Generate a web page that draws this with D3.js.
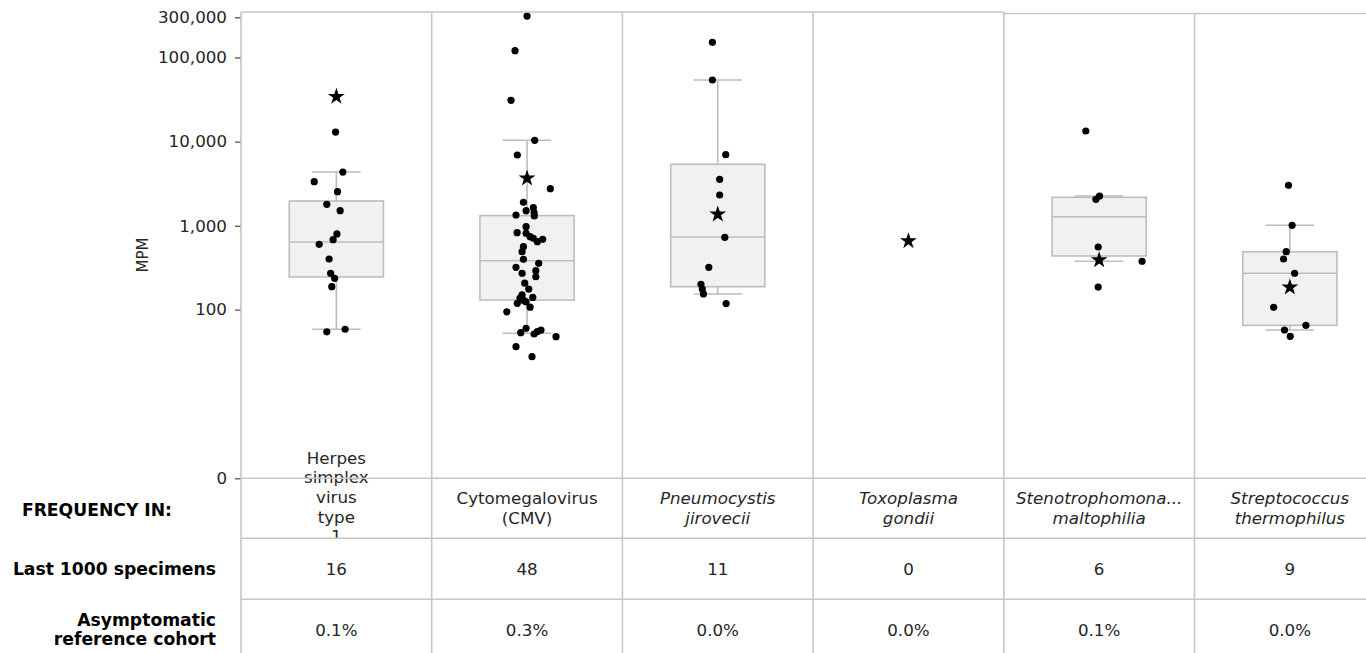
<!DOCTYPE html>
<html>
<head>
<meta charset="utf-8">
<script src="https://cdn.jsdelivr.net/npm/d3@7"></script>
<style>
  html, body { margin: 0; padding: 0; background: #fff; overflow: hidden; }
  svg { display: block; font-family: "DejaVu Sans", sans-serif; }
</style>
</head>
<body>
<svg id="chart" width="1366" height="653"></svg>
<script>
// ---- organisms shown as columns ----
const organisms = [
  "Herpes simplex virus type 1",
  "Cytomegalovirus (CMV)",
  "Pneumocystis jirovecii",
  "Toxoplasma gondii",
  "Stenotrophomonas maltophilia",
  "Streptococcus thermophilus"
];
const headerLines = [
  ["Herpes", "simplex", "virus", "type", "1"],
  ["Cytomegalovirus", "(CMV)"],
  ["Pneumocystis", "jirovecii"],
  ["Toxoplasma", "gondii"],
  ["Stenotrophomona...", "maltophilia"],
  ["Streptococcus", "thermophilus"]
];
const headerItalic = [false, false, true, true, true, true];

// ---- frequency table ----
const last1000Counts = [16, 48, 11, 0, 6, 9];
const cohortPercent = [0.1, 0.3, 0.0, 0.0, 0.1, 0.0];

// ---- current specimen (star), MPM ----
const sampleMPM = [34180, 3665, 1369, 659, 391, 185];

// ---- y axis ticks ----
const yTicks = [0, 100, 1000, 10000, 100000, 300000];

// ---- historical detections, MPM, with strip jitter (% of column width) ----
const hsv1MPM = [13000, 4350, 3340, 2540, 1800, 1511, 799, 683, 602, 402, 272, 237, 188, 58, 54];
const hsv1Jitter = [-0.4, 3.4, -11.6, 0.6, -5.0, 2.0, 0.3, -1.7, -9.0, -3.8, -3.0, -0.9, -2.4, 4.6, -5.0];

const cmvMPM = [310000, 120300, 30970, 10370, 6935, 2758, 1901, 1641, 1511, 1431, 1343, 1306,
  975, 827, 814, 741, 710, 690, 647, 564, 492, 399, 357, 320, 292, 272, 247, 207, 176,
  150, 140, 137, 128, 124, 119, 107, 94, 59.5, 56.8, 54.2, 52.7, 50.8, 47.1, 35.6, 26.9];
const cmvJitter = [0, -6.3, -8.4, 4.0, -5.1, 12.2, -1.9, 3.3, -0.5, 3.7, -5.8, 3.8,
  -0.5, -5.2, -0.5, 1.6, 3.3, 8.2, 5.4, -1.9, -2.6, -1.9, 6.1, -5.8, 4.6, -2.6, 4.6, -1.2, 0.9,
  -2.6, 3.0, -3.7, -1.6, -0.5, -5.1, 1.6, -10.6, -0.5, 7.3, 5.4, -3.3, 3.7, 15.2, -5.8, 2.6];

const pjMPM = [151400, 53950, 6993, 3567, 2321, 729, 320, 201, 176, 154, 118];
const pjJitter = [-2.8, -2.8, 4.2, 1.0, 1.0, 3.7, -4.7, -8.8, -8.1, -7.5, 4.4];

const tgMPM = [];
const tgJitter = [];

const smMPM = [13370, 2259, 2063, 559, 378, 186];
const smJitter = [-7.0, 0.2, -1.7, -0.5, 22.5, -0.5];

const stMPM = [3027, 1013, 491, 402, 272, 106.6, 64.7, 56.8, 47.6];
const stJitter = [-0.7, 1.2, -1.9, -3.3, 2.5, -8.5, 8.4, -2.8, 0.2];

const detections = [hsv1MPM, cmvMPM, pjMPM, tgMPM, smMPM, stMPM];
const jitters = [hsv1Jitter, cmvJitter, pjJitter, tgJitter, smJitter, stJitter];

// ---- box summaries (null where there is no history) ----
const whiskerLow  = [58, 51.8, 154, null, 378, 56.8];
const quartile1   = [246, 130, 188, null, 437, 64.7];
const medianMPM   = [642, 384, 735, null, 1282, 272];
const quartile3   = [1970, 1320, 5377, null, 2180, 491];
const whiskerHigh = [4350, 10370, 53950, null, 2259, 1013];

// ---- layout ----
const svg = d3.select("#chart");
const W = 1366, H = 653;
const left = 241, colW = 190.7;
const yZero = 478.3, yTop = 17.3;
const rowLines = [478.3, 538.3, 599.3];
const panelTops = [12, 12, 12, 12, 13.5, 13.5];
const gridColor = "#c6c6c6";
const boxStroke = "#bdbdbd";
const textColor = "#262626";
const fontSize = 16.7;
const labelSize = 17.2;

const x = d3.scaleBand().domain(organisms).range([left, left + colW * organisms.length]);
const y = d3.scaleSymlog().constant(1).domain([0, 300000]).range([yZero, yTop]);
const cx = o => x(o) + x.bandwidth() / 2;
const boxHalf = x.bandwidth() * 0.247;
const capHalf = x.bandwidth() * 0.127;

// panel backgrounds
svg.append("g").selectAll("rect").data(organisms).join("rect")
  .attr("x", d => x(d)).attr("y", (d, i) => panelTops[i])
  .attr("width", x.bandwidth()).attr("height", yZero - 12)
  .attr("fill", "#fff");

// box plots
const boxes = svg.append("g");
organisms.forEach((o, i) => {
  if (quartile1[i] == null) return;
  const c = cx(o);
  const g = boxes.append("g").attr("stroke", boxStroke).attr("stroke-width", 1.6);
  g.append("line").attr("x1", c).attr("x2", c).attr("y1", y(quartile3[i])).attr("y2", y(whiskerHigh[i]));
  g.append("line").attr("x1", c).attr("x2", c).attr("y1", y(quartile1[i])).attr("y2", y(whiskerLow[i]));
  g.append("line").attr("x1", c - capHalf).attr("x2", c + capHalf).attr("y1", y(whiskerHigh[i])).attr("y2", y(whiskerHigh[i]));
  g.append("line").attr("x1", c - capHalf).attr("x2", c + capHalf).attr("y1", y(whiskerLow[i])).attr("y2", y(whiskerLow[i]));
  g.append("rect").attr("x", c - boxHalf).attr("width", boxHalf * 2)
    .attr("y", y(quartile3[i])).attr("height", y(quartile1[i]) - y(quartile3[i]))
    .attr("fill", "#f1f1f1");
  g.append("line").attr("x1", c - boxHalf).attr("x2", c + boxHalf).attr("y1", y(medianMPM[i])).attr("y2", y(medianMPM[i]));
});

// detection dots
const dots = svg.append("g").attr("fill", "#000");
organisms.forEach((o, i) => {
  dots.selectAll(null).data(detections[i].map((v, k) => ({ v, j: jitters[i][k] }))).join("circle")
    .attr("cx", d => cx(o) + d.j / 100 * x.bandwidth())
    .attr("cy", d => y(d.v))
    .attr("r", 3.6);
});

// current specimen stars
svg.append("g").selectAll("path").data(organisms).join("path")
  .attr("d", d3.symbol(d3.symbolStar, 88))
  .attr("transform", (d, i) => `translate(${cx(d)},${y(sampleMPM[i])})`)
  .attr("fill", "#000");

// y axis
const yAxis = d3.axisLeft(y).tickValues(yTicks).tickFormat(d3.format(",")).tickSize(6).tickPadding(8);
const ax = svg.append("g").attr("transform", `translate(${left},0)`).call(yAxis);
ax.select(".domain").remove();
ax.selectAll(".tick line").attr("stroke", "#444").attr("stroke-width", 1.2);
ax.selectAll(".tick text").attr("fill", textColor).style("font-size", fontSize + "px")
  .style("font-family", "DejaVu Sans");

svg.append("text")
  .attr("transform", `translate(148,255) rotate(-90)`)
  .attr("text-anchor", "middle").attr("fill", textColor)
  .style("font-size", "15px").text("MPM");

// table header row: organism names
const header = svg.append("g").attr("fill", textColor).style("font-size", fontSize + "px");
organisms.forEach((o, i) => {
  const lines = headerLines[i];
  const n = lines.length;
  const lh = 19.7;
  const mean = 517.4 - 3.6 * (n - 1);
  const first = mean - (n - 1) * lh / 2;
  const t = header.append("text").attr("text-anchor", "middle")
    .style("font-style", headerItalic[i] ? "italic" : "normal");
  lines.forEach((s, k) => {
    t.append("tspan").attr("x", cx(o)).attr("y", first + k * lh).text(s);
  });
});

// lower table rows sit on white cells
svg.append("rect").attr("x", left).attr("y", rowLines[1])
  .attr("width", W - left).attr("height", H - rowLines[1]).attr("fill", "#fff");

// grid lines: column edges, panel tops and row separators
const grid = svg.append("g").attr("stroke", gridColor).attr("stroke-width", 1.6).attr("fill", "none");
const edges = organisms.map(o => x(o)).concat([x(organisms[organisms.length - 1]) + x.bandwidth()]);
edges.forEach((e, k) => {
  const top = k < organisms.length ? panelTops[k] : panelTops[organisms.length - 1];
  const topPrev = k > 0 ? panelTops[k - 1] : top;
  grid.append("line").attr("x1", e).attr("x2", e).attr("y1", Math.min(top, topPrev)).attr("y2", H + 2);
});
organisms.forEach((o, i) => {
  grid.append("line").attr("x1", x(o)).attr("x2", x(o) + x.bandwidth())
    .attr("y1", panelTops[i]).attr("y2", panelTops[i]);
});
rowLines.forEach(r => {
  grid.append("line").attr("x1", left).attr("x2", W + 2).attr("y1", r).attr("y2", r);
});

// table values
const cells = svg.append("g").attr("fill", textColor).style("font-size", fontSize + "px")
  .attr("text-anchor", "middle");
organisms.forEach((o, i) => {
  cells.append("text").attr("x", cx(o)).attr("y", 574.5).text(last1000Counts[i]);
  cells.append("text").attr("x", cx(o)).attr("y", 636).text(d3.format(".1f")(cohortPercent[i]) + "%");
});

// row labels
const labels = svg.append("g").attr("fill", "#000").style("font-size", labelSize + "px")
  .style("font-weight", "bold").attr("text-anchor", "end");
labels.append("text").attr("x", 172).attr("y", 515.5).text("FREQUENCY IN:");
labels.append("text").attr("x", 216).attr("y", 574.5).text("Last 1000 specimens");
labels.append("text").attr("x", 216).attr("y", 625.5).text("Asymptomatic");
labels.append("text").attr("x", 216).attr("y", 645).text("reference cohort");
</script>
</body>
</html>
